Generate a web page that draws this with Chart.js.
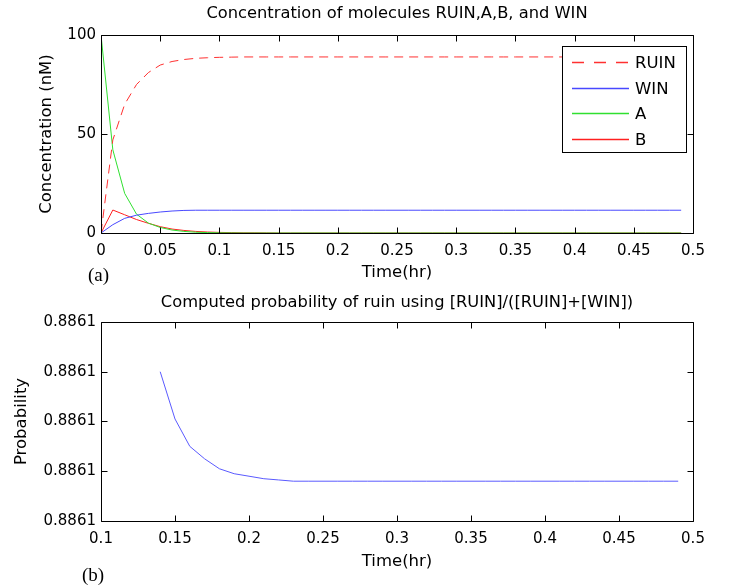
<!DOCTYPE html>
<html>
<head>
<meta charset="utf-8">
<script src="https://cdn.jsdelivr.net/npm/chart.js@4"></script>
<style>
  html, body { margin: 0; padding: 0; background: #fff; }
  body { width: 738px; height: 587px; position: relative; overflow: hidden; }
  .box { position: absolute; left: 0; width: 738px; }
  #topBox { top: 0; height: 293px; }
  #botBox { top: 290px; height: 297px; }
</style>
</head>
<body>
<div class="box" id="topBox"><canvas id="concChart"></canvas></div>
<div class="box" id="botBox"><canvas id="probChart"></canvas></div>
<script>
// (a) concentrations, sampled every 0.01 hr
const timeA = [0, 0.01, 0.02, 0.03, 0.04, 0.05, 0.06, 0.07, 0.08, 0.09,
  0.1, 0.11, 0.12, 0.13, 0.14, 0.15, 0.16, 0.17, 0.18, 0.19,
  0.2, 0.21, 0.22, 0.23, 0.24, 0.25, 0.26, 0.27, 0.28, 0.29,
  0.3, 0.31, 0.32, 0.33, 0.34, 0.35, 0.36, 0.37, 0.38, 0.39,
  0.4, 0.41, 0.42, 0.43, 0.44, 0.45, 0.46, 0.47, 0.48, 0.49];
const ruin = [0, 47, 65, 75, 81, 84.8, 86.6, 87.6, 88.2, 88.5,
  88.7, 88.8, 88.9, 88.9, 88.9, 88.9, 88.9, 88.9, 88.9, 88.9,
  88.9, 88.9, 88.9, 88.9, 88.9, 88.9, 88.9, 88.9, 88.9, 88.9,
  88.9, 88.9, 88.9, 88.9, 88.9, 88.9, 88.9, 88.9, 88.9, 88.9,
  88.9, 88.9, 88.9, 88.9, 88.9, 88.9, 88.9, 88.9, 88.9, 88.9];
const win = [0, 4.2, 7.4, 9.0, 9.9, 10.6, 11.1, 11.4, 11.5, 11.5,
  11.5, 11.5, 11.5, 11.5, 11.5, 11.5, 11.5, 11.5, 11.5, 11.5,
  11.5, 11.5, 11.5, 11.5, 11.5, 11.5, 11.5, 11.5, 11.5, 11.5,
  11.5, 11.5, 11.5, 11.5, 11.5, 11.5, 11.5, 11.5, 11.5, 11.5,
  11.5, 11.5, 11.5, 11.5, 11.5, 11.5, 11.5, 11.5, 11.5, 11.5];
const molA = [100, 42, 20, 9.5, 5, 2.8, 1.5, 0.8, 0.4, 0.2,
  0.1, 0.05, 0, 0, 0, 0, 0, 0, 0, 0,
  0, 0, 0, 0, 0, 0, 0, 0, 0, 0,
  0, 0, 0, 0, 0, 0, 0, 0, 0, 0,
  0, 0, 0, 0, 0, 0, 0, 0, 0, 0];
const molB = [0, 11.6, 9.2, 6.8, 4.9, 3.2, 2.0, 1.3, 0.8, 0.5,
  0.3, 0.2, 0.1, 0.1, 0.05, 0, 0, 0, 0, 0,
  0, 0, 0, 0, 0, 0, 0, 0, 0, 0,
  0, 0, 0, 0, 0, 0, 0, 0, 0, 0,
  0, 0, 0, 0, 0, 0, 0, 0, 0, 0];

// (b) ruin probability
const timeB = [0.14, 0.15, 0.16, 0.17, 0.18, 0.19, 0.2, 0.21, 0.22, 0.23,
  0.24, 0.25, 0.26, 0.27, 0.28, 0.29, 0.3, 0.31, 0.32, 0.33,
  0.34, 0.35, 0.36, 0.37, 0.38, 0.39, 0.4, 0.41, 0.42, 0.43,
  0.44, 0.45, 0.46, 0.47, 0.48, 0.49];
const prob = [0.88612, 0.886101, 0.88609, 0.886085, 0.886081, 0.886079, 0.886078, 0.886077, 0.8860765, 0.886076,
  0.886076, 0.886076, 0.886076, 0.886076, 0.886076, 0.886076, 0.886076, 0.886076, 0.886076, 0.886076,
  0.886076, 0.886076, 0.886076, 0.886076, 0.886076, 0.886076, 0.886076, 0.886076, 0.886076, 0.886076,
  0.886076, 0.886076, 0.886076, 0.886076, 0.886076, 0.886076];
const probTicks = [0.88606, 0.88608, 0.8861, 0.88612, 0.88614];

const FONT = "'DejaVu Sans', sans-serif";

const toXY = (xs, ys) => xs.map((x, i) => ({ x: x, y: ys[i] }));

// matlab style box with inward ticks on all four sides + panel letter
const matlabFrame = {
  id: "matlabFrame",
  afterDatasetsDraw(chart, args, opts) {
    const { ctx, chartArea: a, scales } = chart;
    const L = Math.round(a.left) + 0.5, R = Math.round(a.right) + 0.5;
    const T = Math.round(a.top) + 0.5, B = Math.round(a.bottom) + 0.5;
    const len = 6;
    ctx.save();
    ctx.strokeStyle = "#000";
    ctx.lineWidth = 1;
    ctx.beginPath();
    ctx.rect(L, T, R - L, B - T);
    scales.x.ticks.forEach((t) => {
      const p = Math.round(scales.x.getPixelForValue(t.value)) + 0.5;
      ctx.moveTo(p, T); ctx.lineTo(p, T + len);
      ctx.moveTo(p, B); ctx.lineTo(p, B - len);
    });
    scales.y.ticks.forEach((t) => {
      const p = Math.round(scales.y.getPixelForValue(t.value)) + 0.5;
      ctx.moveTo(L, p); ctx.lineTo(L + len, p);
      ctx.moveTo(R, p); ctx.lineTo(R - len, p);
    });
    ctx.stroke();
    if (opts.letter) {
      ctx.fillStyle = "#000";
      ctx.font = "19px 'Liberation Serif', serif";
      ctx.textBaseline = "middle";
      ctx.fillText(opts.letter, opts.lx, opts.ly);
    }
    ctx.restore();
  },
};

// boxed legend inside the plot, top right
const boxLegend = {
  id: "boxLegend",
  afterDraw(chart, args, opts) {
    if (!opts.show) return;
    const { ctx, chartArea: a } = chart;
    const w = 124, h = 106;
    const left = Math.round(a.right) - 7 - w, top = Math.round(a.top) + 11;
    ctx.save();
    ctx.fillStyle = "#fff";
    ctx.fillRect(left, top, w, h);
    ctx.strokeStyle = "#000";
    ctx.lineWidth = 1;
    ctx.strokeRect(left + 0.5, top + 0.5, w, h);
    ctx.font = "16.5px " + FONT;
    ctx.textBaseline = "middle";
    chart.data.datasets.forEach((ds, i) => {
      const y = Math.round(top + 16 + i * 25.5) + 0.5;
      ctx.strokeStyle = ds.borderColor;
      ctx.lineWidth = 1.5;
      ctx.setLineDash(ds.borderDash ? [12, 10] : []);
      ctx.beginPath();
      ctx.moveTo(left + 10, y);
      ctx.lineTo(left + 67, y);
      ctx.stroke();
      ctx.fillStyle = "#000";
      ctx.fillText(ds.label, left + 73, y + 1);
    });
    ctx.restore();
  },
};

Chart.register(matlabFrame, boxLegend);

function axisX(min, max, bottomPad, height) {
  return {
    type: "linear",
    min: min,
    max: max,
    ticks: {
      stepSize: 0.05,
      color: "#000",
      font: { family: FONT, size: 15 },
      padding: 9,
      maxRotation: 0,
      autoSkip: false,
      callback: (v) => String(Number(Number(v).toFixed(3))),
    },
    grid: { display: false, drawTicks: false },
    border: { display: false },
    title: { display: true, text: "Time(hr)", color: "#000", font: { family: FONT, size: 16.5 }, padding: { top: 0, bottom: bottomPad } },
    afterFit: (s) => { s.height = height; },
  };
}

const concChart = new Chart(document.getElementById("concChart"), {
  type: "line",
  data: {
    datasets: [
      { label: "RUIN", data: toXY(timeA, ruin), borderColor: "#ff3030", borderDash: [9, 6], borderWidth: 1, pointRadius: 0, fill: false },
      { label: "WIN", data: toXY(timeA, win), borderColor: "#4848ff", borderWidth: 1, pointRadius: 0, fill: false },
      { label: "A", data: toXY(timeA, molA), borderColor: "#30e030", borderWidth: 1, pointRadius: 0, fill: false },
      { label: "B", data: toXY(timeA, molB), borderColor: "#ff2020", borderWidth: 1, pointRadius: 0, fill: false },
    ],
  },
  options: {
    responsive: true,
    maintainAspectRatio: false,
    animation: false,
    devicePixelRatio: 1,
    layout: { padding: { left: 0, right: 45, top: 0, bottom: 0 } },
    scales: {
      x: axisX(0, 0.5, 10, 60),
      y: {
        min: 0,
        max: 100,
        ticks: { stepSize: 50, color: "#000", font: { family: FONT, size: 15 }, padding: 5 },
        grid: { display: false, drawTicks: false },
        border: { display: false },
        title: { display: true, text: "Concentration (nM)", color: "#000", font: { family: FONT, size: 16.5 }, padding: { top: 37, bottom: 0 } },
        afterFit: (s) => { s.width = 101; },
      },
    },
    plugins: {
      legend: { display: false },
      tooltip: { enabled: false },
      title: {
        display: true,
        fullSize: false,
        text: "Concentration of molecules RUIN,A,B, and WIN",
        color: "#000",
        font: { family: FONT, size: 16.3, weight: "normal" },
        padding: { top: 4.2, bottom: 11.2 },
      },
      matlabFrame: { letter: "(a)", lx: 88, ly: 276 },
      boxLegend: { show: true },
    },
  },
});

const probChart = new Chart(document.getElementById("probChart"), {
  type: "line",
  data: {
    datasets: [
      { label: "P(ruin)", data: toXY(timeB, prob), borderColor: "#5a5aff", borderWidth: 1, pointRadius: 0, fill: false },
    ],
  },
  options: {
    responsive: true,
    maintainAspectRatio: false,
    animation: false,
    devicePixelRatio: 1,
    layout: { padding: { left: 0, right: 45, top: 0, bottom: 0 } },
    scales: {
      x: axisX(0.1, 0.5, 15, 66),
      y: {
        min: probTicks[0],
        max: probTicks[probTicks.length - 1],
        afterBuildTicks: (s) => { s.ticks = probTicks.map((v) => ({ value: v })); },
        ticks: { color: "#000", font: { family: FONT, size: 15 }, padding: 5, callback: (v) => Number(v).toFixed(4) },
        grid: { display: false, drawTicks: false },
        border: { display: false },
        title: { display: true, text: "Probability", color: "#000", font: { family: FONT, size: 16.5 }, padding: { top: 12, bottom: 0 } },
        afterFit: (s) => { s.width = 101; },
      },
    },
    plugins: {
      legend: { display: false },
      tooltip: { enabled: false },
      title: {
        display: true,
        fullSize: false,
        text: "Computed probability of ruin using [RUIN]/([RUIN]+[WIN])",
        color: "#000",
        font: { family: FONT, size: 16.3, weight: "normal" },
        padding: { top: 2.7, bottom: 9.7 },
      },
      matlabFrame: { letter: "(b)", lx: 82, ly: 286 },
      boxLegend: { show: false },
    },
  },
});
</script>
</body>
</html>
